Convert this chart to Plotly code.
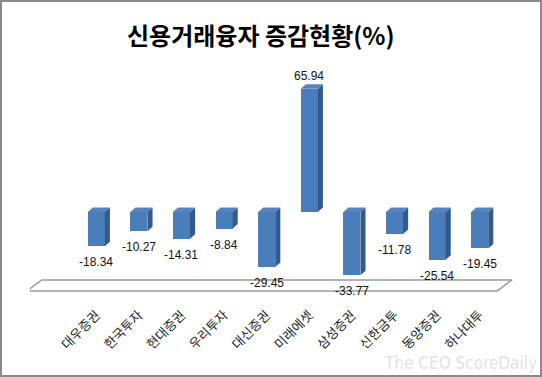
import plotly.graph_objects as go

categories = ["대우증권", "한국투자", "현대증권", "우리투자", "대신증권",
              "미래에셋", "삼성증권", "신한금투", "동양증권", "하나대투"]
values = [-18.34, -10.27, -14.31, -8.84, -29.45, 65.94, -33.77, -11.78, -25.54, -19.45]
title_text = "신용거래융자 증감현황(%)"
watermark = "The CEO ScoreDaily"

# geometry / style
W = 0.4          # bar front width (category units)
DX, DY = 0.12, 2.4   # 3D depth offset (x units, y units)
FRONT, SIDE, TOP = "#4a7ebb", "#34598a", "#5583bf"
FLOOR_Y0, FLOOR_DEPTH = -42.2, 5.9
FLOOR_X0, FLOOR_X1, FLOOR_DX = -1.63, 9.41, 0.35

L, R, T, B = 30, 22, 60, 77
WIDTH, HEIGHT = 542, 377
XR = [-1.556, 9.946]
YR = [-47.06, 81.28]

idx = list(range(len(categories)))
h = W / 2

fig = go.Figure()

# floor
fx = [FLOOR_X0, FLOOR_X1, FLOOR_X1 + FLOOR_DX, FLOOR_X0 + FLOOR_DX, FLOOR_X0]
fy = [FLOOR_Y0, FLOOR_Y0, FLOOR_Y0 + FLOOR_DEPTH, FLOOR_Y0 + FLOOR_DEPTH, FLOOR_Y0]
fig.add_trace(go.Scatter(x=fx, y=fy, mode="lines", fill="toself", fillcolor="white",
                         line=dict(color="#9a9a9a", width=1.5), hoverinfo="skip", showlegend=False))

# side and top faces
sx, sy, tx, ty = [], [], [], []
for i, v in zip(idx, values):
    top, bot = max(v, 0), min(v, 0)
    sx += [i + h, i + h + DX, i + h + DX, i + h, i + h, None]
    sy += [bot, bot + DY, top + DY, top, bot, None]
    tx += [i - h, i + h, i + h + DX, i - h + DX, i - h, None]
    ty += [top, top, top + DY, top + DY, top, None]

fig.add_trace(go.Bar(x=idx, y=values, width=W, marker=dict(color=FRONT, line=dict(width=0)),
                     hoverinfo="skip", showlegend=False))
fig.add_trace(go.Scatter(x=sx, y=sy, mode="lines", fill="toself", fillcolor=SIDE,
                         line=dict(width=0, color=SIDE), hoverinfo="skip", showlegend=False))
fig.add_trace(go.Scatter(x=tx, y=ty, mode="lines", fill="toself", fillcolor=TOP,
                         line=dict(width=0, color=TOP), hoverinfo="skip", showlegend=False))

# data labels
for i, v in zip(idx, values):
    fig.add_annotation(x=i, y=v, text=f"{v:.2f}", showarrow=False,
                       xanchor="center", yanchor="middle",
                       yshift=(-16 if v < 0 else 13),
                       font=dict(family="Liberation Sans, Arial", size=12, color="#111111"))

pw = WIDTH - L - R
ph = HEIGHT - T - B
# title
fig.add_annotation(xref="paper", yref="paper", x=(261 - L) / pw, y=(HEIGHT - B - 35) / ph,
                   xanchor="center", yanchor="middle",
                   text=f"<b>{title_text}</b>", showarrow=False,
                   font=dict(family="Noto Sans CJK KR", size=24, color="#000000"))
# watermark
fig.add_annotation(xref="paper", yref="paper", x=(539 - L) / pw, y=(HEIGHT - B - 363) / ph,
                   xanchor="right", yanchor="middle", text=watermark, showarrow=False,
                   font=dict(family="Liberation Sans Narrow, DejaVu Sans Condensed", size=17, color="#e2e2e2"))
# outer border
fig.add_shape(type="rect", xref="paper", yref="paper",
              x0=(1 - L) / pw, x1=(WIDTH - 1 - L) / pw,
              y0=(HEIGHT - B - (HEIGHT - 1)) / ph, y1=(HEIGHT - B - 1) / ph,
              line=dict(color="#8a8a8a", width=2), layer="above")

fig.update_layout(
    width=WIDTH, height=HEIGHT,
    margin=dict(l=L, r=R, t=T, b=B, pad=0, autoexpand=False),
    paper_bgcolor="white", plot_bgcolor="white",
    xaxis=dict(range=XR, tickmode="array", tickvals=idx, ticktext=categories,
               tickangle=-45, showgrid=False, zeroline=False, showline=False, ticks="",
               tickfont=dict(family="Noto Sans CJK KR", size=13, color="#1a1a1a"),
               ticklabelstandoff=4, fixedrange=True, automargin=False),
    yaxis=dict(range=YR, visible=False, showgrid=False, zeroline=False, fixedrange=True,
               automargin=False),
    bargap=0,
)

fig.write_html("out.html", config={"displayModeBar": False},
               post_script="document.body.style.margin='0';document.body.style.overflow='hidden';")
